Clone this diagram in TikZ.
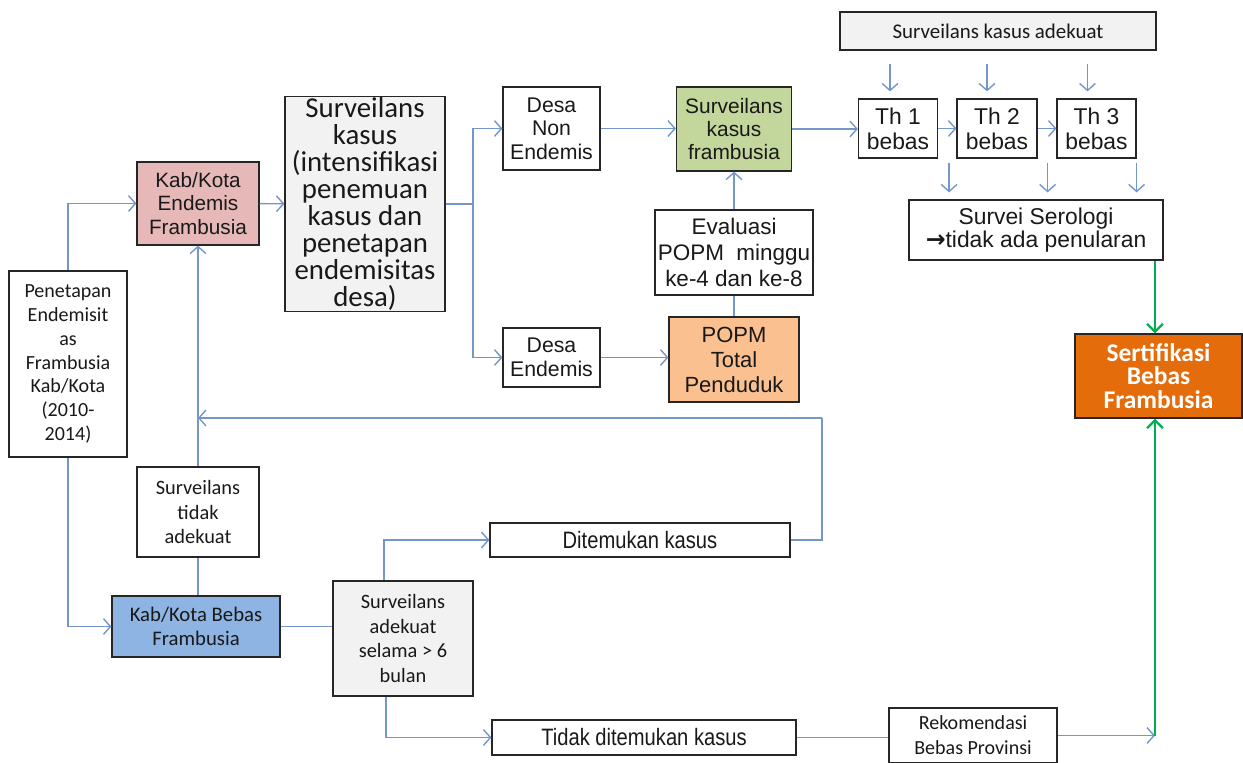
\documentclass[tikz,border=0pt]{standalone}
\usepackage{fontspec}
\setmainfont{Liberation Sans}
\newfontfamily\calibri{Carlito}
\newfontfamily\arialn{Liberation Sans}[FakeStretch=0.85]
\newfontfamily\symfont{DejaVu Sans}
\usetikzlibrary{positioning,calc,arrows.meta}

\definecolor{lineblue}{RGB}{116,150,200}
\definecolor{kabpink}{RGB}{230,185,184}
\definecolor{lightgray}{RGB}{242,242,242}
\definecolor{olive}{RGB}{195,214,155}
\definecolor{peach}{RGB}{250,192,144}
\definecolor{orangedark}{RGB}{228,108,10}
\definecolor{bebasblue}{RGB}{141,180,226}
\definecolor{greenline}{RGB}{0,176,80}

\newcommand{\setfs}[2]{\fontsize{#1pt}{#2pt}\selectfont}

\tikzset{
	box/.style={draw=black!85, line width=0.7pt, inner sep=1pt, align=center, text=black!90},
	arr/.style={draw=lineblue, line width=0.8pt, -{Straight Barb[length=4pt,width=9pt]}},
	lin/.style={draw=lineblue, line width=0.8pt},
	garr/.style={draw=greenline, line width=1.3pt, -{Straight Barb[length=4.5pt,width=9pt]}},
}

\begin{document}
\begin{tikzpicture}[x=0.02cm, y=-0.02cm]
	\useasboundingbox (0,0) rectangle (1243,763);

	% left column
	\node[box, minimum width=2.36cm, minimum height=3.72cm, font=\calibri\setfs{11.4}{13.6}] (penet) at (68, 364) {Penetapan\\Endemisit\\as\\Frambusia\\Kab/Kota\\(2010-\\2014)};
	\node[box, fill=kabpink, minimum width=2.44cm, minimum height=1.66cm, font=\setfs{11.8}{13.6}] (endem) at (198, 203.5) {Kab/Kota\\Endemis\\Frambusia};
	\node[box, minimum width=2.44cm, minimum height=1.8cm, font=\calibri\setfs{11.6}{14.2}] (survtidak) at (198, 512) {Surveilans\\tidak\\adekuat};
	\node[box, fill=bebasblue, minimum width=3.36cm, minimum height=1.22cm, font=\calibri\setfs{11.8}{13.6}] (bebas) at (196, 626.5) {Kab/Kota Bebas\\Frambusia};

	% middle
	\node[box, fill=lightgray, minimum width=3.2cm, minimum height=4.2cm, font=\calibri\setfs{16.4}{15.3}] (survk) at (365, 204) {Surveilans\\kasus\\(intensifikasi\\penemuan\\kasus dan\\penetapan\\endemisitas\\desa)};
	\node[box, minimum width=1.94cm, minimum height=1.66cm, font=\setfs{12.1}{13.3}] (nonend) at (551.5, 128.5) {Desa\\Non\\Endemis};
	\node[box, minimum width=1.94cm, minimum height=1.18cm, font=\setfs{12.1}{13.6}] (desaend) at (551.5, 357.5) {Desa\\Endemis};
	\node[box, fill=olive, minimum width=2.3cm, minimum height=1.68cm, font=\setfs{11.9}{13.3}] (survf) at (734, 129) {Surveilans\\kasus\\frambusia};
	\node[box, minimum width=3.16cm, minimum height=1.7cm, font=\setfs{12.8}{14.7}] (evalu) at (734, 252.5) {Evaluasi\\POPM\ \ minggu\\ke-4 dan ke-8};
	\node[box, fill=peach, minimum width=2.6cm, minimum height=1.7cm, font=\setfs{12.5}{14.2}] (popm) at (734, 359.5) {POPM\\Total\\Penduduk};
	\node[box, fill=lightgray, minimum width=2.8cm, minimum height=2.3cm, font=\calibri\setfs{11.6}{14.2}] (adek6) at (403, 638.5) {Surveilans\\adekuat\\selama > 6\\bulan};
	\node[box, minimum width=6cm, minimum height=0.68cm, font=\arialn\setfs{13.5}{15}] (ditemu) at (640, 540) {Ditemukan kasus};
	\node[box, minimum width=6.08cm, minimum height=0.7cm, font=\arialn\setfs{13.5}{15}] (tidakditemu) at (644, 737.5) {Tidak ditemukan kasus};

	% right side
	\node[box, fill=lightgray, minimum width=6.32cm, minimum height=0.76cm, font=\calibri\setfs{11.9}{14}] (adekuat) at (998, 31) {Surveilans kasus adekuat};
	\node[box, minimum width=1.58cm, minimum height=1.18cm, font=\setfs{13}{14.2}] (th1) at (898, 128.5) {Th 1\\bebas};
	\node[box, minimum width=1.6cm, minimum height=1.18cm, font=\setfs{13}{14.2}] (th2) at (997, 128.5) {Th 2\\bebas};
	\node[box, minimum width=1.58cm, minimum height=1.18cm, font=\setfs{13}{14.2}] (th3) at (1096.5, 128.5) {Th 3\\bebas};
	\node[box, minimum width=5.08cm, minimum height=1.2cm, font=\setfs{13}{13.3}] (sero) at (1036, 230) {Survei Serologi\\{\symfont\bfseries\setfs{13.5}{13.3}→}tidak ada penularan};
	\node[box, fill=orangedark, text=white, minimum width=3.34cm, minimum height=1.68cm, font=\calibri\bfseries\setfs{14.5}{13.5}] (sertif) at (1158.5, 376) {Sertifikasi\\Bebas\\Frambusia};
	\node[box, minimum width=3.36cm, minimum height=1.1cm, font=\calibri\setfs{11.4}{14.2}] (rekom) at (973, 735.5) {Rekomendasi\\Bebas Provinsi};

	\coordinate (split) at (473, 204);
	\coordinate (fb) at (822, 418);
	\coordinate (gl) at ([xshift=-0.07cm]sertif.south |- rekom.east);

	% connectors
	\draw[arr] (penet.north) |- (endem.west);
	\draw[arr] (penet.south) |- (bebas.west);
	\draw[arr] (endem) -- (survk);
	\draw[lin] (survk.east) -- (split);
	\draw[arr] (split) |- (nonend.west);
	\draw[arr] (split) |- (desaend.west);
	\draw[arr] (nonend.east) -- (nonend.east -| survf.west);
	\draw[arr] (desaend.east) -- (desaend.east -| popm.west);
	\draw[lin] (popm) -- (evalu);
	\draw[arr] (evalu) -- (survf);
	\draw[arr] (survf.east) -- (survf.east -| th1.west);
	\draw[arr] (th1) -- (th2);
	\draw[arr] (th2) -- (th3);
	\draw[arr, shorten <=0.26cm, shorten >=0.14cm] ([xshift=-0.16cm]th1.north |- adekuat.south) -- ([xshift=-0.16cm]th1.north);
	\draw[arr, shorten <=0.26cm, shorten >=0.14cm] ([xshift=-0.2cm]th2.north |- adekuat.south) -- ([xshift=-0.2cm]th2.north);
	\draw[arr, shorten <=0.26cm, shorten >=0.14cm] ([xshift=-0.18cm]th3.north |- adekuat.south) -- ([xshift=-0.18cm]th3.north);
	\draw[arr, shorten <=0.08cm, shorten >=0.14cm] ([xshift=0.22cm]th1.south east) -- ([xshift=0.22cm]th1.south east |- sero.north);
	\draw[arr, shorten <=0.08cm, shorten >=0.14cm] ([xshift=0.2cm]th2.south east) -- ([xshift=0.2cm]th2.south east |- sero.north);
	\draw[arr, shorten <=0.08cm, shorten >=0.14cm] (th3.south east) -- (th3.south east |- sero.north);
	\draw[garr] ([xshift=-0.07cm]sertif.north |- sero.south) -- ([xshift=-0.07cm]sertif.north);

	\draw[arr] (survtidak.north) -- (survtidak.north |- endem.south);
	\draw[lin] (survtidak.south) -- (survtidak.south |- bebas.north);
	\draw[lin] (bebas.east) -- (bebas.east -| adek6.west);
	\draw[arr] ([xshift=-0.38cm]adek6.north) |- (ditemu.west);
	\draw[arr] ([xshift=-0.34cm]adek6.south) |- (tidakditemu.west);
	\draw[lin] (ditemu.east) -| (fb);
	\draw[arr] (fb) -- (fb -| survtidak.north);
	\draw[lin] (tidakditemu.east) -- (tidakditemu.east -| rekom.west);
	\draw[arr] (rekom.east) -- (gl);
	\draw[garr] (gl) -- (gl |- sertif.south);
\end{tikzpicture}
\end{document}
